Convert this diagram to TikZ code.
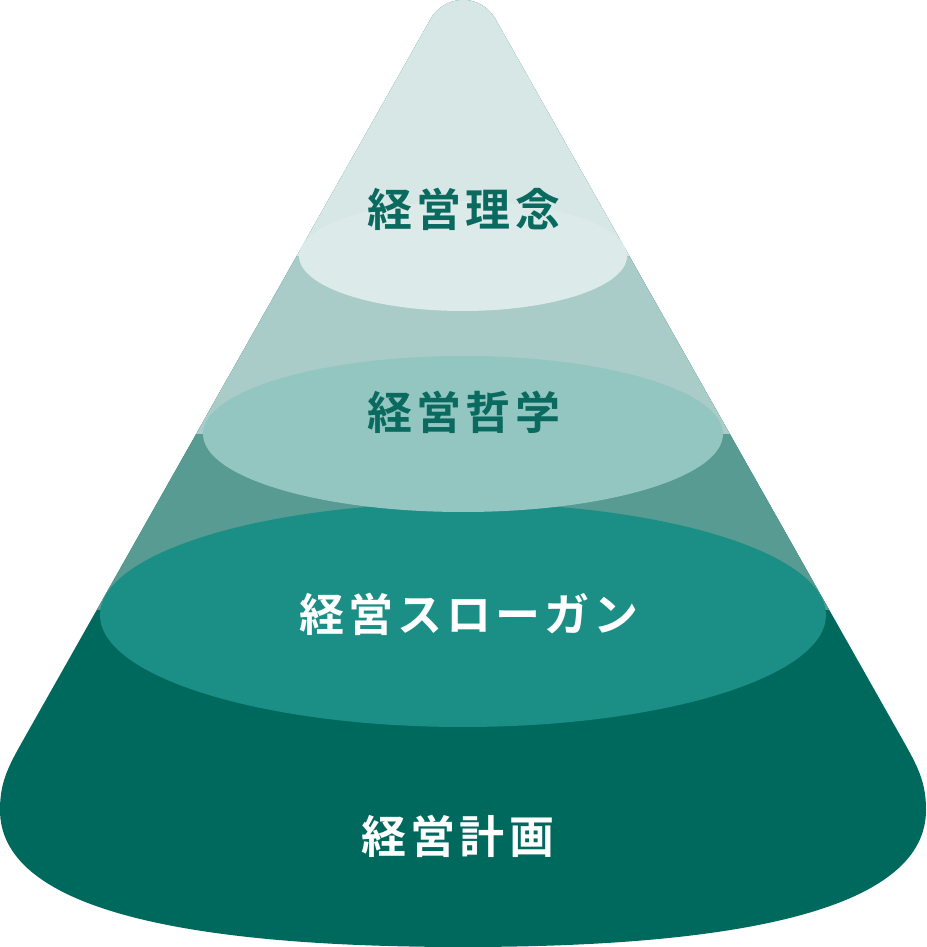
\documentclass[tikz,border=0pt]{standalone}
\usepackage{fontspec}
\usepackage{xcolor}
\usepackage{tikz}
\newfontfamily\jpfont{Noto Sans CJK JP}[BoldFont={Noto Sans CJK JP Bold},LetterSpace=9]
\definecolor{baseteal}{HTML}{00695D}
\definecolor{bandthree}{HTML}{579B92}
\definecolor{bandtwo}{HTML}{A9CCC9}
\definecolor{bandone}{HTML}{D6E7E5}
\definecolor{ellthree}{HTML}{1B8E86}
\definecolor{elltwo}{HTML}{93C5C1}
\definecolor{ellone}{HTML}{DCEBE9}
\definecolor{darklabel}{HTML}{0A6A5F}

\begin{document}
\begin{tikzpicture}[x=1pt, y=1pt,
    layerlabel/.style={font=\jpfont\bfseries\fontsize{45}{45}\selectfont, inner sep=0pt}]
    \useasboundingbox (0,0) rectangle (926,947);
    % cone outline
    \def\coneoutline{(20.4,202) -- (430.8,928.2) arc[start angle=150.5, end angle=29.5, radius=37]
        -- (905.6,202) .. controls (919.7,177) and (926,162) .. (926,137)
        .. controls (926,42) and (756,0) .. (463,0)
        .. controls (170,0) and (0,42) .. (0,137)
        .. controls (0,162) and (6.3,177) .. (20.4,202) -- cycle}
    \fill[baseteal] \coneoutline;
    \begin{scope}
        \clip \coneoutline;
        \fill[bandthree] (0,337) rectangle (926,947);
        \fill[bandtwo] (0,513) rectangle (926,947);
        \fill[bandone] (0,691) rectangle (926,947);
    \end{scope}
    % layer tops
    \fill[ellthree] (463,332) ellipse [x radius=363, y radius=112];
    \fill[elltwo] (463,513) ellipse [x radius=260, y radius=78];
    \fill[ellone] (463,691) ellipse [x radius=164, y radius=55];

    \node (rinen) [layerlabel, text=darklabel] at (464,738) {経営理念};
    \node (tetsugaku) [layerlabel, text=darklabel] at (464,535) {経営哲学};
    \node (slogan) [layerlabel, text=white] at (469,333) {経営スローガン};
    \node (keikaku) [layerlabel, text=white] at (458,111) {経営計画};
\end{tikzpicture}
\end{document}
